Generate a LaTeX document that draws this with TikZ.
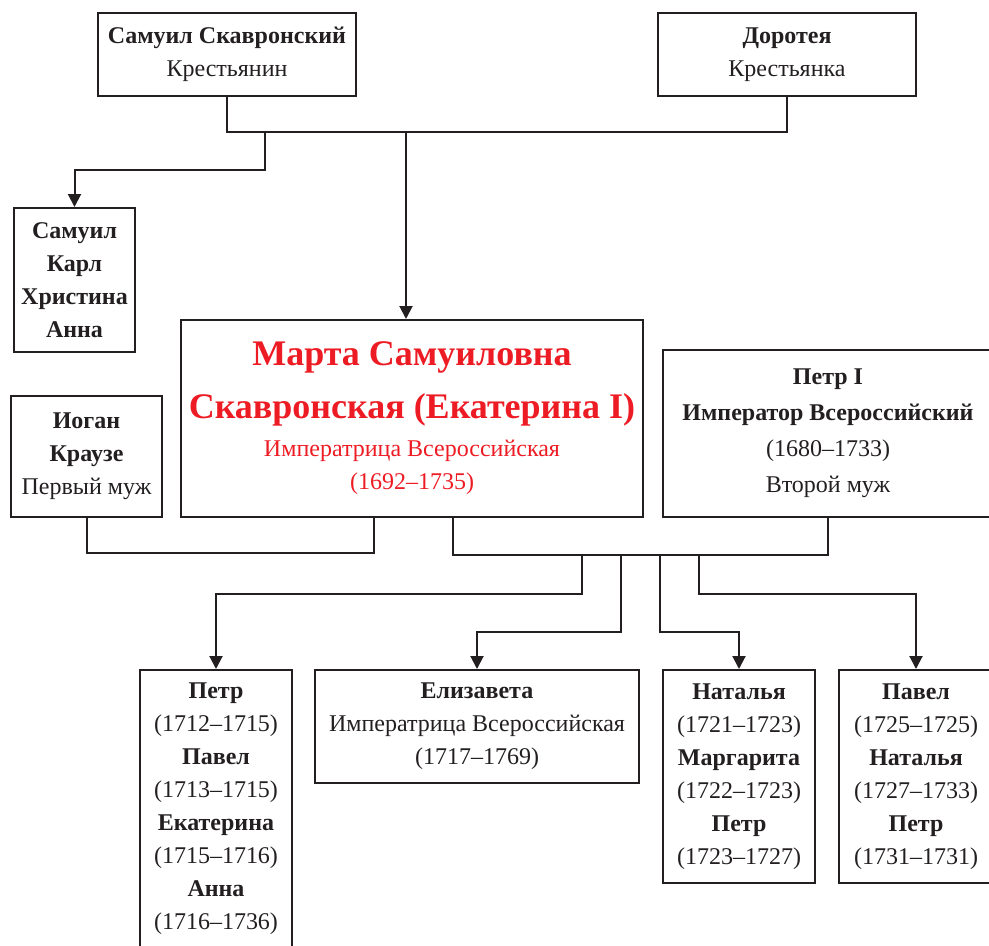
\documentclass[tikz,border=0pt]{standalone}
\usepackage{fontspec}
\setmainfont{Liberation Serif}
\usetikzlibrary{
    positioning, % posicionamento relativo dos nós
    arrows.meta  % pontas de seta
}
\definecolor{ink}{RGB}{35,31,32}
\definecolor{tsarred}{RGB}{237,28,36}

\begin{document}
\begin{tikzpicture}[x=1pt, y=-1pt]

    % --- Estilos ---
    \tikzset{
        % caixa de uma pessoa
        person/.style={
            draw=ink,
            line width=2pt,
            inner sep=0pt,
            align=center,
            text=ink,
            font=\fontsize{24}{33}\selectfont
        },
        % linha de ligação (casamentos)
        link/.style={
            draw=ink,
            line width=2pt
        },
        % seta para os filhos
        child_arrow/.style={
            link,
            -{Triangle[length=13pt, width=13pt]}
        }
    }

    % área da figura
    \useasboundingbox (0,0) rectangle (989,946);

    % --- Pais ---
    \node[person, minimum width=258pt, minimum height=83pt, anchor=north west] (samuil) at (97,12)
        {\textbf{Самуил Скавронский}\\Крестьянин};
    \node[person, minimum width=258pt, minimum height=83pt, right=300pt of samuil] (doroteya)
        {\textbf{Доротея}\\Крестьянка};

    % Irmãos
    \node[person, minimum width=121pt, minimum height=144pt, anchor=north west] (siblings) at (13,207)
        {\textbf{Самуил}\\\textbf{Карл}\\\textbf{Христина}\\\textbf{Анна}};

    % --- Marta e os maridos ---
    \node[person, minimum width=151pt, minimum height=121pt, anchor=north west] (iogan) at (10,395)
        {\textbf{Иоган}\\\textbf{Краузе}\\Первый муж};
    \node[person, minimum width=462pt, minimum height=197pt, text=tsarred,
          right=17pt of iogan.south east, anchor=south west] (marta)
        {\fontsize{36}{40}\selectfont\bfseries Марта Самуиловна\\[20pt]
         \fontsize{36}{40}\selectfont\bfseries Скавронская (Екатерина I)\\[5pt]
         Императрица Всероссийская\\(1692--1735)};
    \node[person, minimum width=330pt, minimum height=167pt,
          right=18pt of marta.south east, anchor=south west] (petr1)
        {\textbf{Петр I}\\[3pt]\textbf{Император Всероссийский}\\[3pt](1680--1733)\\[3pt]Второй муж};

    % --- Filhos ---
    \node[person, minimum width=152pt, minimum height=278pt, anchor=north west] (kids1) at (139,669)
        {\textbf{Петр}\\(1712--1715)\\\textbf{Павел}\\(1713--1715)\\
         \textbf{Екатерина}\\(1715--1716)\\\textbf{Анна}\\(1716--1736)};
    \node[person, minimum width=324pt, minimum height=113pt,
          right=21pt of kids1.north east, anchor=north west] (elizaveta)
        {\textbf{Елизавета}\\Императрица Всероссийская\\(1717--1769)};
    \node[person, minimum width=152pt, minimum height=213pt,
          right=22pt of elizaveta.north east, anchor=north west] (natalya)
        {\textbf{Наталья}\\(1721--1723)\\\textbf{Маргарита}\\(1722--1723)\\\textbf{Петр}\\(1723--1727)};
    \node[person, minimum width=154pt, minimum height=213pt,
          right=22pt of natalya.north east, anchor=north west] (pavel)
        {\textbf{Павел}\\(1725--1725)\\\textbf{Наталья}\\(1727--1733)\\\textbf{Петр}\\(1731--1731)};

    % --- Pontos auxiliares das ligações ---
    \coordinate (parentline) at (0,132);
    \coordinate (sibfork) at (265,170);
    \coordinate (wedding1) at (0,553);
    \coordinate (wedding2) at (0,555);
    \coordinate (kidsfar) at (0,594);
    \coordinate (kidsnear) at (0,632);
    \coordinate (martatop) at ([xshift=-6pt]marta.north);
    \coordinate (martaleft) at ([xshift=-38pt]marta.south);
    \coordinate (martaright) at ([xshift=41pt]marta.south);
    \coordinate (drop1) at (582,555);
    \coordinate (drop2) at (621,555);
    \coordinate (drop3) at (660,555);
    \coordinate (drop4) at (699,555);

    % --- Ligações ---
    % pais
    \draw[link] (samuil.south) -- (samuil.south |- parentline) -- (doroteya.south |- parentline) -- (doroteya.south);
    \draw[child_arrow] (martatop |- parentline) -- (martatop);
    \draw[child_arrow] (sibfork |- parentline) -- (sibfork) -| (siblings.north);

    % casamentos
    \draw[link] (iogan.south) -- (iogan.south |- wedding1) -| (martaleft);
    \draw[link] (martaright) -- (martaright |- wedding2) -| (petr1.south);

    % filhos
    \draw[child_arrow] (drop1) -- (drop1 |- kidsfar) -| (kids1.north);
    \draw[child_arrow] (drop2) -- (drop2 |- kidsnear) -| (elizaveta.north);
    \draw[child_arrow] (drop3) -- (drop3 |- kidsnear) -| (natalya.north);
    \draw[child_arrow] (drop4) -- (drop4 |- kidsfar) -| (pavel.north);

\end{tikzpicture}
\end{document}
